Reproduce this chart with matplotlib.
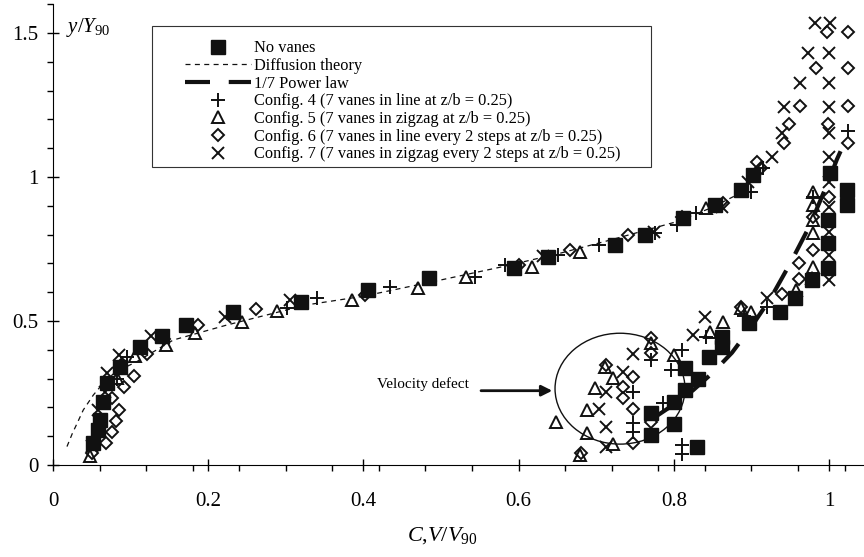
import numpy as np
import matplotlib
matplotlib.use("Agg")
from matplotlib import pyplot as plt
from matplotlib.patches import Ellipse, Rectangle
from matplotlib.ticker import MultipleLocator

plt.rcParams['font.family'] = ['Liberation Serif', 'DejaVu Serif']
plt.rcParams['mathtext.fontset'] = 'custom'
plt.rcParams['mathtext.rm'] = 'Liberation Serif'
plt.rcParams['mathtext.it'] = 'Liberation Serif:italic'

#######################################################################
# values
no_vanes_x = [0.052, 0.058, 0.060, 0.065, 0.069, 0.086, 0.112, 0.141, 0.172, 0.232, 0.320, 0.406,
              0.484, 0.594, 0.638, 0.724, 0.763, 0.812, 0.853, 0.887, 0.902,
              1.001, 1.023, 1.023, 0.999, 0.999, 0.999, 0.978, 0.956, 0.937, 0.897,
              0.862, 0.862, 0.846, 0.814, 0.831, 0.814, 0.800, 0.771, 0.800, 0.771, 0.830]
no_vanes_y = [0.075, 0.120, 0.156, 0.220, 0.284, 0.341, 0.411, 0.448, 0.486, 0.532, 0.567, 0.608,
              0.648, 0.683, 0.721, 0.764, 0.799, 0.857, 0.903, 0.955, 1.007,
              1.013, 0.955, 0.903, 0.851, 0.770, 0.683, 0.642, 0.579, 0.532, 0.492,
              0.446, 0.410, 0.374, 0.336, 0.299, 0.260, 0.220, 0.179, 0.142, 0.104, 0.064]

diffusion_x = [0.018, 0.025, 0.032, 0.039, 0.052, 0.065, 0.080, 0.108, 0.155, 0.224, 0.327, 0.400,
               0.499, 0.580, 0.653, 0.718, 0.804, 0.850, 0.890]
diffusion_y = [0.064, 0.110, 0.150, 0.191, 0.243, 0.285, 0.322, 0.359, 0.434, 0.486, 0.556, 0.586,
               0.642, 0.689, 0.735, 0.781, 0.845, 0.895, 0.950]

power_x = [0.775, 0.800, 0.825, 0.850, 0.875, 0.900, 0.925, 0.950, 0.975, 1.000, 1.010, 1.020]
power_y = [0.165, 0.210, 0.260, 0.320, 0.390, 0.480, 0.580, 0.700, 0.830, 0.990, 1.060, 1.120]

cfg4_x = [0.082, 0.095, 0.301, 0.340, 0.434, 0.544, 0.582, 0.651, 0.703, 0.776, 0.804, 0.829,
          0.900, 0.915, 0.810, 0.797, 0.748, 0.771, 0.786, 0.748, 0.748, 0.811, 0.811,
          0.842, 0.890, 0.920, 0.979, 1.024]
cfg4_y = [0.300, 0.376, 0.544, 0.581, 0.619, 0.654, 0.694, 0.729, 0.764, 0.805, 0.833, 0.874,
          0.949, 1.030, 0.399, 0.330, 0.255, 0.365, 0.214, 0.145, 0.115, 0.069, 0.038,
          0.446, 0.517, 0.550, 0.930, 1.160]

cfg5_x = [0.048, 0.082, 0.106, 0.146, 0.183, 0.243, 0.289, 0.385, 0.471, 0.532, 0.617, 0.679,
          0.842, 0.979, 0.979, 0.979, 0.979, 0.979, 0.978, 0.958, 0.899, 0.887, 0.863, 0.847,
          0.800, 0.771, 0.722, 0.698, 0.711, 0.688, 0.688, 0.648, 0.722, 0.679]
cfg5_y = [0.030, 0.302, 0.377, 0.417, 0.457, 0.496, 0.535, 0.574, 0.613, 0.654, 0.689, 0.741,
          0.894, 0.949, 0.903, 0.850, 0.804, 0.689, 0.648, 0.608, 0.532, 0.544, 0.498, 0.463,
          0.382, 0.422, 0.301, 0.266, 0.341, 0.191, 0.112, 0.150, 0.073, 0.035]

cfg6_x = [0.050, 0.068, 0.076, 0.081, 0.085, 0.076, 0.091, 0.104, 0.088, 0.121, 0.143, 0.187,
          0.262, 0.402, 0.600, 0.666, 0.741, 0.810, 0.864, 0.907,
          0.998, 1.024, 0.983, 1.024, 0.963, 1.024, 0.949, 0.999, 0.942, 1.024, 0.912,
          1.000, 0.979, 0.979, 0.961, 0.961, 0.940, 0.887,
          0.771, 0.771, 0.713, 0.748, 0.735, 0.735, 0.748, 0.771, 0.748, 0.681]
cfg6_y = [0.040, 0.078, 0.116, 0.153, 0.191, 0.231, 0.272, 0.309, 0.347, 0.384, 0.436, 0.486,
          0.540, 0.590, 0.695, 0.748, 0.799, 0.862, 0.910, 1.053,
          1.505, 1.505, 1.377, 1.377, 1.247, 1.247, 1.184, 1.184, 1.119, 1.119, 1.030,
          0.932, 0.862, 0.747, 0.700, 0.645, 0.593, 0.548,
          0.440, 0.388, 0.347, 0.307, 0.270, 0.231, 0.193, 0.150, 0.075, 0.040]

cfg7_x = [0.050, 0.060, 0.058, 0.067, 0.069, 0.085, 0.126, 0.222, 0.305, 0.486, 0.631, 0.774,
          0.862, 0.896, 0.982, 1.001, 0.973, 1.000, 0.963, 1.000, 0.942, 1.000, 0.939, 1.000,
          0.926, 1.000, 1.000, 1.000, 1.000, 1.000, 1.000, 0.920, 0.840, 0.825,
          0.748, 0.735, 0.713, 0.703, 0.713, 0.713]
cfg7_y = [0.066, 0.127, 0.191, 0.255, 0.321, 0.382, 0.448, 0.513, 0.573, 0.645, 0.726, 0.810,
          0.897, 0.984, 1.536, 1.536, 1.432, 1.432, 1.325, 1.325, 1.242, 1.242, 1.154, 1.154,
          1.071, 1.071, 0.984, 0.897, 0.810, 0.729, 0.642, 0.579, 0.515, 0.451,
          0.385, 0.324, 0.255, 0.193, 0.131, 0.064]

labels = ['No vanes', 'Diffusion theory', '1/7 Power law',
          'Config. 4 (7 vanes in line at z/b = 0.25)',
          'Config. 5 (7 vanes in zigzag at z/b = 0.25)',
          'Config. 6 (7 vanes in line every 2 steps at z/b = 0.25)',
          'Config. 7 (7 vanes in zigzag every 2 steps at z/b = 0.25)']
#######################################################################

fig = plt.figure(figsize=(8.64, 5.57), dpi=100)
ax = fig.add_axes([53/864, 92/557, 811/864, 461/557])

ax.plot(no_vanes_x, no_vanes_y, ls='none', marker='s', ms=9.5, color='#111111', label=labels[0])
ax.plot(diffusion_x, diffusion_y, ls=(0, (4, 3.5)), lw=0.9, color='#111111', label=labels[1])
ax.plot(power_x, power_y, ls=(0, (6, 4.5)), lw=3, color='#111111', label=labels[2])
ax.plot(cfg4_x, cfg4_y, ls='none', marker='+', ms=10, mew=1.4, color='#111111', label=labels[3])
ax.plot(cfg5_x, cfg5_y, ls='none', marker='^', ms=8, mew=1.4, mfc='none', color='#111111', label=labels[4])
ax.plot(cfg6_x, cfg6_y, ls='none', marker='D', ms=6.5, mew=1.4, mfc='none', color='#111111', label=labels[5])
ax.plot(cfg7_x, cfg7_y, ls='none', marker='x', ms=9, mew=1.4, color='#111111', label=labels[6])

# velocity defect ring + arrow
ax.add_patch(Ellipse((0.7307, 0.265), 0.1675, 0.385, fill=False, lw=1, color='#111111'))
ax.annotate('', xy=(0.647, 0.258), xytext=(0.548, 0.258),
            arrowprops=dict(arrowstyle='-|>', lw=2, color='#111111', mutation_scale=16))
ax.text(0.4175, 0.28, 'Velocity defect', fontsize=11, ha='left', va='center')

ax.set_xlim(0, 811/776)
ax.set_ylim(0, 461/288)
ax.spines['top'].set_visible(False)
ax.spines['right'].set_visible(False)
ax.xaxis.set_minor_locator(MultipleLocator(0.06))
ax.yaxis.set_minor_locator(MultipleLocator(0.1))
ax.set_xticks([0, 0.2, 0.4, 0.6, 0.8, 1.0])
ax.set_xticklabels(['0', '0.2', '0.4', '0.6', '0.8', '1'])
ax.set_yticks([0, 0.5, 1.0, 1.5])
ax.set_yticklabels(['0', '0.5', '1', '1.5'])
ax.tick_params(which='major', direction='inout', length=9, width=1, labelsize=15)
ax.tick_params(axis='x', which='major', pad=15)
ax.tick_params(axis='y', which='major', pad=6)
ax.tick_params(which='minor', direction='out', length=4, width=1)

ax.text(0.017, 1.52, r'$y/Y_{90}$', fontsize=15, ha='left', va='center')
ax.set_xlabel(r'$C{,}V/V_{90}$', fontsize=16)
ax.xaxis.set_label_coords(0.48, -0.13)

leg = ax.legend(loc='upper left', bbox_to_anchor=(185/864, 1 - 40.5/557), bbox_transform=fig.transFigure,
                frameon=False, fontsize=11.8, handlelength=4.0, handletextpad=0.2, labelspacing=0.1,
                borderpad=0, borderaxespad=0, numpoints=1)
fig.patches.append(Rectangle((152/864, 1 - 167/557), (651-152)/864, (167-25.7)/557,
                             transform=fig.transFigure, fill=False, lw=0.8, edgecolor='#333333'))

fig.savefig('out.png', dpi=100)
